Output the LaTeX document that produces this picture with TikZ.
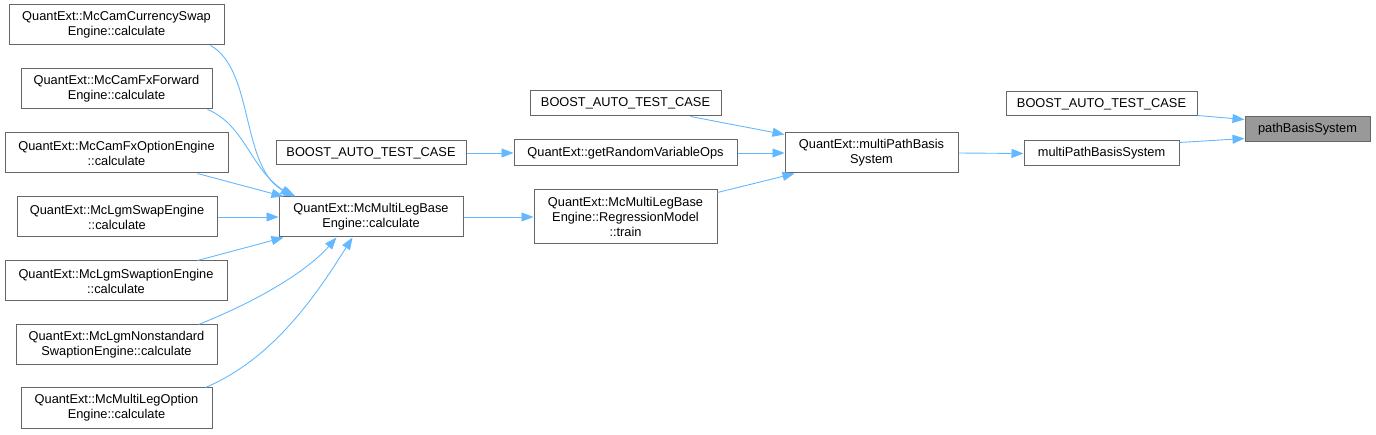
\documentclass[tikz,border=0pt]{standalone}
\usepackage{fontspec}
\setmainfont{Liberation Sans}
\usetikzlibrary{arrows.meta, positioning}
\definecolor{edgeblue}{RGB}{99, 184, 255}
\definecolor{boxgray}{RGB}{102, 102, 102}
\definecolor{hlgray}{RGB}{153, 153, 153}

\begin{document}
\begin{tikzpicture}[x=1pt, y=-1pt,
  fnbox/.style={draw=boxgray, line width=1pt, fill=white, inner sep=0pt, align=center,
    font=\fontsize{12.8}{15}\selectfont, minimum height=40pt},
  hlbox/.style={fnbox, fill=hlgray},
  callarrow/.style={draw=edgeblue, line width=0.9pt, -{Triangle[length=12pt, width=9pt]}}]
  \useasboundingbox (0,0) rectangle (1376,435);

  % Left column: engines
  \node[fnbox, minimum width=215pt] (camccy) at (116.5, 25) {QuantExt::McCamCurrencySwap\\Engine::calculate};
  \node[fnbox, minimum width=191pt] (camfwd) at (116.5, 89) {QuantExt::McCamFxForward\\Engine::calculate};
  \node[fnbox, minimum width=223pt] (camopt) at (116.5, 153) {QuantExt::McCamFxOptionEngine\\::calculate};
  \node[fnbox, minimum width=200pt] (lgmswap) at (117, 217) {QuantExt::McLgmSwapEngine\\::calculate};
  \node[fnbox, minimum width=222pt] (lgmswptn) at (116, 281) {QuantExt::McLgmSwaptionEngine\\::calculate};
  \node[fnbox, minimum width=201pt] (lgmnonstd) at (116.5, 345) {QuantExt::McLgmNonstandard\\SwaptionEngine::calculate};
  \node[fnbox, minimum width=191pt] (mlopt) at (116.5, 408) {QuantExt::McMultiLegOption\\Engine::calculate};

  % Second column
  \node[fnbox, minimum width=190pt, minimum height=24pt] (testa) at (371, 153) {BOOST\_AUTO\_TEST\_CASE};
  \node[fnbox, minimum width=184pt] (mlbase) at (371, 217) {QuantExt::McMultiLegBase\\Engine::calculate};

  % Third column
  \node[fnbox, minimum width=191pt, minimum height=25pt] (testb) at (625.5, 103.5) {BOOST\_AUTO\_TEST\_CASE};
  \node[fnbox, minimum width=223pt, minimum height=26pt] (randops) at (625.5, 153) {QuantExt::getRandomVariableOps};
  \node[fnbox, minimum width=183pt, minimum height=54pt] (train) at (625.5, 217) {QuantExt::McMultiLegBase\\Engine::RegressionModel\\::train};

  % Right side
  \node[fnbox, minimum width=173pt] (qempbs) at (871.5, 153) {QuantExt::multiPathBasis\\System};
  \node[fnbox, minimum width=191pt, minimum height=24pt] (testc) at (1101.5, 104) {BOOST\_AUTO\_TEST\_CASE};
  \node[fnbox, minimum width=155pt, minimum height=25pt] (mpbs) at (1101.5, 153.5) {multiPathBasisSystem};
  \node[hlbox, minimum width=125pt, minimum height=25pt] (pbs) at (1307.5, 129.5) {pathBasisSystem};

  % Calls into McMultiLegBaseEngine
  \draw[callarrow] ([xshift=-14pt]camccy.south east) .. controls (255,70) and (240,170) .. ([xshift=17pt]mlbase.north west);
  \draw[callarrow] ([xshift=-5pt]camfwd.south east) .. controls (245,125) and (250,168) .. ([xshift=14pt]mlbase.north west);
  \draw[callarrow] ([xshift=-31pt]camopt.south east) -- ([xshift=5pt]mlbase.north west);
  \draw[callarrow] (lgmswap.east) -- (mlbase.west);
  \draw[callarrow] ([xshift=-30pt]lgmswptn.north east) -- ([xshift=5pt]mlbase.south west);
  \draw[callarrow] ([xshift=-19pt]lgmnonstd.north east) .. controls (265,298) and (310,268) .. ([xshift=58pt]mlbase.south west);
  \draw[callarrow] ([xshift=-7pt]mlopt.north east) .. controls (275,358) and (318,292) .. ([xshift=74pt]mlbase.south west);

  % Middle
  \draw[callarrow] (mlbase.east) -- (train.west);
  \draw[callarrow] (testa.east) -- (randops.west);
  \draw[callarrow] ([xshift=-31pt]testb.south east) -- ([yshift=-2pt]qempbs.north west);
  \draw[callarrow] (randops.east) -- (qempbs.west);
  \draw[callarrow] ([yshift=-3pt]train.north east) -- ([xshift=10pt]qempbs.south west);

  % Right
  \draw[callarrow] (qempbs.east) -- (mpbs.west);
  \draw[callarrow] ([yshift=1pt]testc.south east) -- ([yshift=-3pt]pbs.north west);
  \draw[callarrow] ([yshift=-2pt]mpbs.north east) -- ([yshift=4pt]pbs.south west);
\end{tikzpicture}
\end{document}
